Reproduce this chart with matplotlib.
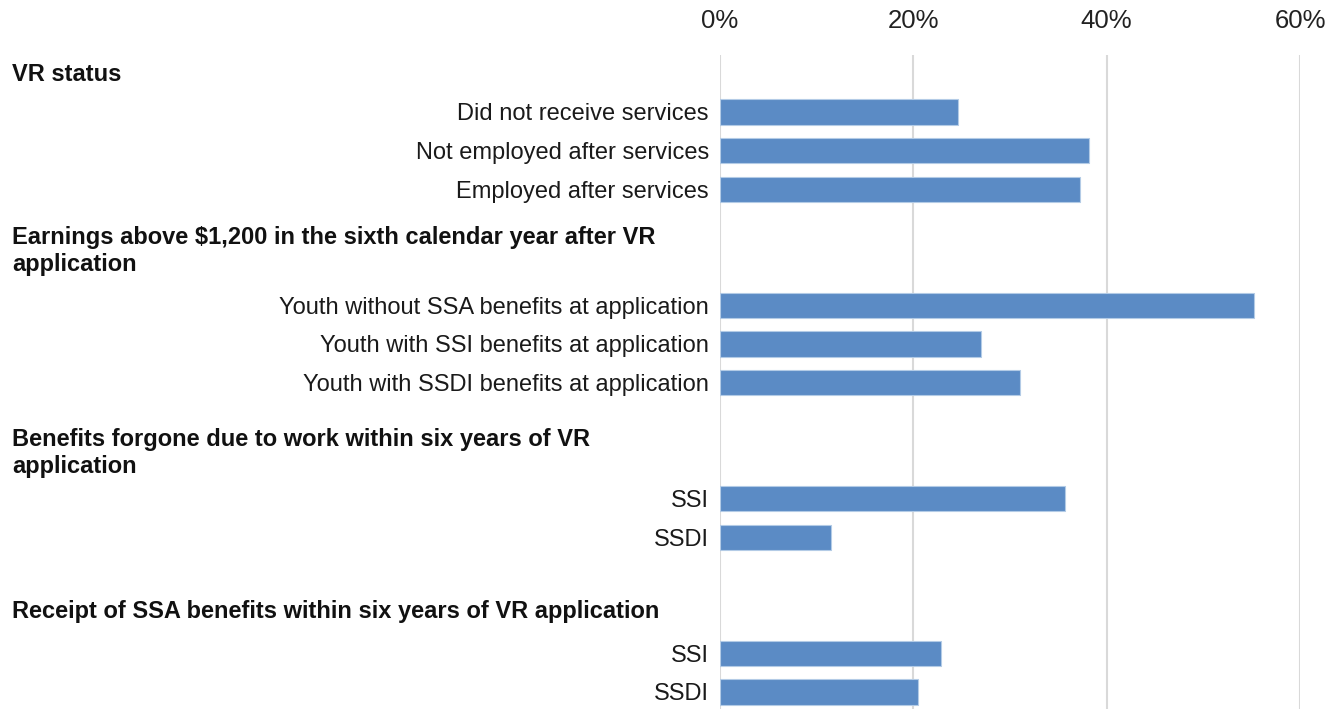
import matplotlib
matplotlib.use("Agg")
import matplotlib.pyplot as plt
from matplotlib.transforms import blended_transform_factory

plt.rcParams['font.family'] = ['Liberation Sans', 'DejaVu Sans']

# ---- data ----
group_titles = [
    "VR status",
    "Earnings above $1,200 in the sixth calendar year after VR\napplication",
    "Benefits forgone due to work within six years of VR\napplication",
    "Receipt of SSA benefits within six years of VR application",
]
vr_labels = ["Did not receive services", "Not employed after services", "Employed after services"]
vr_values = [24.6, 38.2, 37.2]
earn_labels = ["Youth without SSA benefits at application",
               "Youth with SSI benefits at application",
               "Youth with SSDI benefits at application"]
earn_values = [55.2, 27.0, 31.0]
forgone_labels = ["SSI", "SSDI"]
forgone_values = [35.7, 11.5]
receipt_labels = ["SSI", "SSDI"]
receipt_values = [22.9, 20.5]
x_ticks = [0, 20, 40, 60]
x_tick_labels = ["0%", "20%", "40%", "60%"]

groups = [(vr_labels, vr_values), (earn_labels, earn_values),
          (forgone_labels, forgone_values), (receipt_labels, receipt_values)]

# ---- layout ----
group_start = [0, 5, 10, 14]          # slot of first bar in each group
title_offset = [-0.96, -1.4, -1.18, -1.07]  # title centre relative to first bar slot

positions, labels, values = [], [], []
for (labs, vals), start in zip(groups, group_start):
    for i, (l, v) in enumerate(zip(labs, vals)):
        positions.append(start + i)
        labels.append(l)
        values.append(v)

W, H = 1338, 709
fig = plt.figure(figsize=(W / 100, H / 100), dpi=100)
ax = fig.add_axes([720 / W, 0, (1300 - 720) / W, (709 - 55) / H])

bar_color = '#5B8BC5'
ax.barh(positions, values, height=0.65, color=bar_color,
        edgecolor='#b3cbe6', linewidth=0.8, zorder=3)

ax.set_xlim(0, 60)
ax.set_ylim(15.44, -1.474)
ax.set_xticks(x_ticks)
ax.set_xticklabels(x_tick_labels)
ax.xaxis.tick_top()
ax.tick_params(axis='x', length=0, pad=16, labelsize=18.5, labelcolor='#222222')
ax.set_yticks(positions)
ax.set_yticklabels(labels)
ax.tick_params(axis='y', length=0, pad=8, labelsize=17, labelcolor='#1a1a1a')
ax.grid(axis='x', color='#d9d9d9', linewidth=1.5, zorder=0)
ax.grid(axis='y', visible=False)
for s in ax.spines.values():
    s.set_visible(False)

trans = blended_transform_factory(fig.transFigure, ax.transData)
for title, start, off in zip(group_titles, group_start, title_offset):
    ax.text(12 / W, start + off, title, transform=trans, ha='left', va='center',
            fontsize=17, fontweight='bold', color='#111111', linespacing=1.25,
            clip_on=False)

fig.savefig("out.png", dpi=100)
